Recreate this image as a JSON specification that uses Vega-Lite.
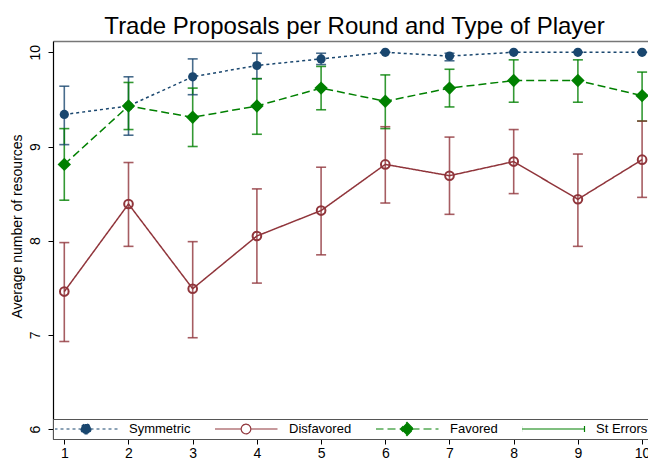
{
  "$schema": "https://vega.github.io/schema/vega-lite/v6.json",
  "width": 595,
  "height": 398,
  "autosize": {"type": "none"},
  "padding": {"left": 53, "top": 41, "right": 0, "bottom": 22},
  "background": "white",
  "title": {
    "text": "Trade Proposals per Round and Type of Player",
    "font": "Liberation Sans",
    "fontSize": 24,
    "fontWeight": "normal",
    "color": "black",
    "anchor": "middle",
    "dx": 4,
    "offset": 2
  },
  "config": {
    "view": {"stroke": null},
    "axis": {"grid": false, "labelFont": "Liberation Sans", "titleFont": "Liberation Sans", "labelColor": "black", "titleColor": "black", "domainColor": "black", "tickColor": "black"}
  },
  "data": {"values": [
    {"round": 1, "type": "Symmetric", "mean": 9.34, "lo": 9.02, "hi": 9.64},
    {"round": 2, "type": "Symmetric", "mean": 9.43, "lo": 9.12, "hi": 9.74},
    {"round": 3, "type": "Symmetric", "mean": 9.74, "lo": 9.55, "hi": 9.93},
    {"round": 4, "type": "Symmetric", "mean": 9.86, "lo": 9.72, "hi": 9.99},
    {"round": 5, "type": "Symmetric", "mean": 9.93, "lo": 9.87, "hi": 9.99},
    {"round": 6, "type": "Symmetric", "mean": 10.0, "lo": 10.0, "hi": 10.0},
    {"round": 7, "type": "Symmetric", "mean": 9.96, "lo": 9.91, "hi": 9.99},
    {"round": 8, "type": "Symmetric", "mean": 10.0, "lo": 10.0, "hi": 10.0},
    {"round": 9, "type": "Symmetric", "mean": 10.0, "lo": 10.0, "hi": 10.0},
    {"round": 10, "type": "Symmetric", "mean": 10.0, "lo": 10.0, "hi": 10.0},
    {"round": 1, "type": "Disfavored", "mean": 7.46, "lo": 6.93, "hi": 7.98},
    {"round": 2, "type": "Disfavored", "mean": 8.39, "lo": 7.94, "hi": 8.83},
    {"round": 3, "type": "Disfavored", "mean": 7.49, "lo": 6.97, "hi": 7.99},
    {"round": 4, "type": "Disfavored", "mean": 8.05, "lo": 7.55, "hi": 8.55},
    {"round": 5, "type": "Disfavored", "mean": 8.32, "lo": 7.85, "hi": 8.78},
    {"round": 6, "type": "Disfavored", "mean": 8.81, "lo": 8.40, "hi": 9.21},
    {"round": 7, "type": "Disfavored", "mean": 8.69, "lo": 8.28, "hi": 9.10},
    {"round": 8, "type": "Disfavored", "mean": 8.84, "lo": 8.50, "hi": 9.18},
    {"round": 9, "type": "Disfavored", "mean": 8.44, "lo": 7.94, "hi": 8.92},
    {"round": 10, "type": "Disfavored", "mean": 8.86, "lo": 8.46, "hi": 9.27},
    {"round": 1, "type": "Favored", "mean": 8.81, "lo": 8.43, "hi": 9.19},
    {"round": 2, "type": "Favored", "mean": 9.43, "lo": 9.18, "hi": 9.68},
    {"round": 3, "type": "Favored", "mean": 9.31, "lo": 9.00, "hi": 9.62},
    {"round": 4, "type": "Favored", "mean": 9.43, "lo": 9.13, "hi": 9.72},
    {"round": 5, "type": "Favored", "mean": 9.62, "lo": 9.39, "hi": 9.85},
    {"round": 6, "type": "Favored", "mean": 9.48, "lo": 9.19, "hi": 9.76},
    {"round": 7, "type": "Favored", "mean": 9.62, "lo": 9.42, "hi": 9.82},
    {"round": 8, "type": "Favored", "mean": 9.70, "lo": 9.47, "hi": 9.92},
    {"round": 9, "type": "Favored", "mean": 9.70, "lo": 9.47, "hi": 9.92},
    {"round": 10, "type": "Favored", "mean": 9.54, "lo": 9.27, "hi": 9.79}
  ]},
  "layer": [
    {
      "resolve": {"axis": {"x": "independent"}},
      "layer": [
        {
          "mark": {"type": "rule", "strokeWidth": 1.6, "opacity": 0.8},
          "encoding": {
            "x": {"field": "round", "type": "quantitative", "scale": {"domain": [0.824, 10.092], "nice": false, "zero": false},
                  "axis": {"orient": "bottom", "values": [1,2,3,4,5,6,7,8,9,10], "title": null, "labelFontSize": 14, "tickSize": 5, "labelPadding": 2, "domainWidth": 1.2}},
            "y": {"field": "lo", "type": "quantitative", "scale": {"domain": [5.895, 10.12], "nice": false, "zero": false},
                  "axis": {"values": [6,7,8,9,10], "format": "d", "title": "Average number of resources", "titleFontSize": 14, "titleFontWeight": "normal", "titleY": 185, "labelFontSize": 14, "labelAngle": 270, "tickSize": 5, "labelPadding": 6, "titlePadding": 4, "domainWidth": 1.2}},
            "y2": {"field": "hi"},
            "color": {"field": "type", "type": "nominal", "scale": {"domain": ["Symmetric", "Disfavored", "Favored"], "range": ["#1a476f", "#90353b", "#008000"]}, "legend": null}
          }
        },
        {
          "mark": {"type": "tick", "orient": "horizontal", "size": 10, "thickness": 1.6, "opacity": 0.8},
          "encoding": {
            "x": {"field": "round", "type": "quantitative", "axis": null},
            "y": {"field": "lo", "type": "quantitative"},
            "color": {"field": "type", "type": "nominal", "legend": null}
          }
        },
        {
          "mark": {"type": "tick", "orient": "horizontal", "size": 10, "thickness": 1.6, "opacity": 0.8},
          "encoding": {
            "x": {"field": "round", "type": "quantitative", "axis": null},
            "y": {"field": "hi", "type": "quantitative"},
            "color": {"field": "type", "type": "nominal", "legend": null}
          }
        },
        {
          "mark": {"type": "line", "strokeWidth": 1.5},
          "encoding": {
            "x": {"field": "round", "type": "quantitative",
                  "axis": {"orient": "top", "labels": false, "ticks": false, "title": null, "domainColor": "#777777", "domainWidth": 1.5}},
            "y": {"field": "mean", "type": "quantitative"},
            "color": {"field": "type", "type": "nominal", "legend": null},
            "strokeDash": {"field": "type", "type": "nominal", "scale": {"domain": ["Symmetric", "Disfavored", "Favored"], "range": [[3, 3], [1, 0], [8, 4]]}, "legend": null}
          }
        },
        {
          "transform": [{"filter": "datum.type != 'Disfavored'"}],
          "mark": {"type": "point", "filled": true, "opacity": 1},
          "encoding": {
            "x": {"field": "round", "type": "quantitative", "axis": null},
            "y": {"field": "mean", "type": "quantitative"},
            "color": {"field": "type", "type": "nominal", "legend": null},
            "shape": {"field": "type", "type": "nominal", "scale": {"domain": ["Symmetric", "Favored"], "range": ["circle", "diamond"]}, "legend": null},
            "size": {"field": "type", "type": "nominal", "scale": {"domain": ["Symmetric", "Favored"], "range": [85, 180]}, "legend": null}
          }
        },
        {
          "transform": [{"filter": "datum.type == 'Disfavored'"}],
          "mark": {"type": "point", "filled": false, "shape": "circle", "size": 75, "strokeWidth": 2, "opacity": 1},
          "encoding": {
            "x": {"field": "round", "type": "quantitative", "axis": null},
            "y": {"field": "mean", "type": "quantitative"},
            "color": {"field": "type", "type": "nominal", "legend": null}
          }
        }
      ]
    },
    {
      "data": {"values": []},
      "mark": {"type": "point", "filled": true, "size": 3600, "strokeWidth": 1.2, "opacity": 1},
      "encoding": {
        "shape": {"field": "type", "type": "nominal",
          "scale": {"domain": ["Symmetric", "Disfavored", "Favored", "St Errors"],
                    "range": [
                      "M-1.05,0H1.05M0.167,0A0.167,0.167,0,1,1,-0.167,0A0.167,0.167,0,1,1,0.167,0Z",
                      "M-1.05,0H-0.16M0.16,0H1.05M0.16,0A0.16,0.16,0,1,1,-0.16,0A0.16,0.16,0,1,1,0.16,0Z",
                      "M-1.05,0H1.05M0,-0.22L0.22,0L0,0.22L-0.22,0Z",
                      "M-1.05,-0.1V0.1M-1.05,0H1.05M1.05,-0.1V0.1"
                    ]},
          "legend": {"title": null, "orient": "none", "legendX": 0, "legendY": 378, "direction": "horizontal", "fillColor": "white", "strokeColor": "#555555", "padding": 2, "clipHeight": 16, "labelFont": "Liberation Sans", "labelFontSize": 13, "labelColor": "black", "labelOffset": 12, "columnPadding": 24, "symbolSize": 3600, "symbolStrokeWidth": 1.2, "symbolOpacity": 1, "labelLimit": 200}},
        "fill": {"field": "type", "type": "nominal",
          "scale": {"domain": ["Symmetric", "Disfavored", "Favored", "St Errors"], "range": ["#1a476f", "white", "#008000", "transparent"]},
          "legend": {"title": null, "orient": "none", "legendX": 0, "legendY": 378, "direction": "horizontal", "fillColor": "white", "strokeColor": "#555555", "padding": 2, "clipHeight": 16, "labelFont": "Liberation Sans", "labelFontSize": 13, "labelColor": "black", "labelOffset": 12, "columnPadding": 24, "symbolSize": 3600, "symbolStrokeWidth": 1.2, "symbolOpacity": 1, "labelLimit": 200}},
        "stroke": {"field": "type", "type": "nominal",
          "scale": {"domain": ["Symmetric", "Disfavored", "Favored", "St Errors"], "range": ["#1a476f", "#90353b", "#008000", "#008000"]},
          "legend": {"title": null, "orient": "none", "legendX": 0, "legendY": 378, "direction": "horizontal", "fillColor": "white", "strokeColor": "#555555", "padding": 2, "clipHeight": 16, "labelFont": "Liberation Sans", "labelFontSize": 13, "labelColor": "black", "labelOffset": 12, "columnPadding": 24, "symbolSize": 3600, "symbolStrokeWidth": 1.2, "symbolOpacity": 1, "labelLimit": 200}},
        "strokeDash": {"field": "type", "type": "nominal",
          "scale": {"domain": ["Symmetric", "Disfavored", "Favored", "St Errors"], "range": [[3, 3], [1, 0], [8, 4], [1, 0]]},
          "legend": {"title": null, "orient": "none", "legendX": 0, "legendY": 378, "direction": "horizontal", "fillColor": "white", "strokeColor": "#555555", "padding": 2, "clipHeight": 16, "labelFont": "Liberation Sans", "labelFontSize": 13, "labelColor": "black", "labelOffset": 12, "columnPadding": 24, "symbolSize": 3600, "symbolStrokeWidth": 1.2, "symbolOpacity": 1, "labelLimit": 200}}
      }
    }
  ],
  "resolve": {
    "scale": {"color": "independent", "shape": "independent", "strokeDash": "independent", "fill": "independent", "stroke": "independent", "size": "independent"},
    "legend": {"shape": "independent", "fill": "independent", "stroke": "independent", "strokeDash": "independent", "color": "independent", "size": "independent"},
    "axis": {"x": "independent"}
  }
}
